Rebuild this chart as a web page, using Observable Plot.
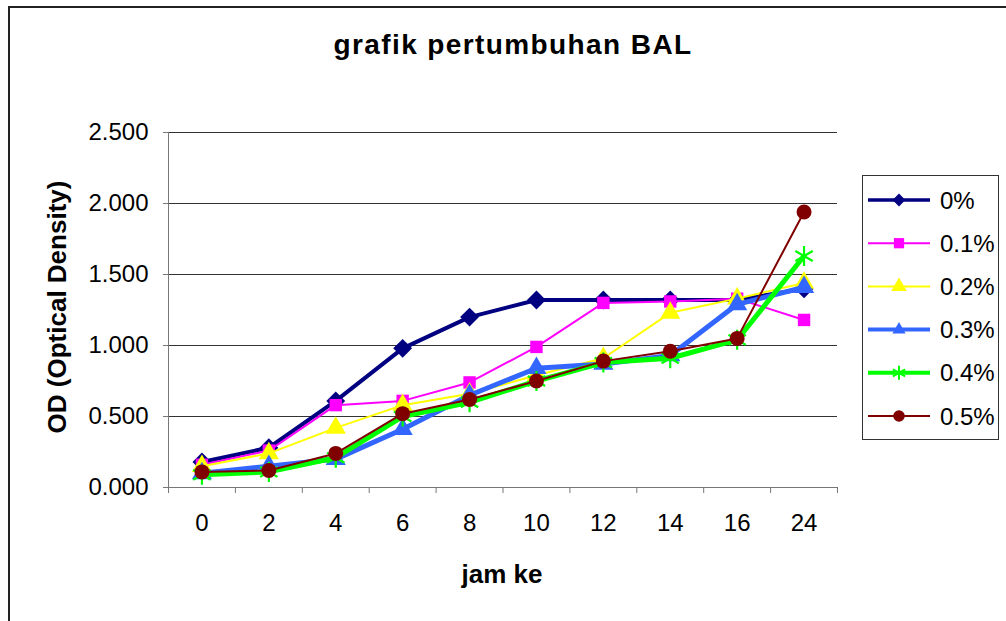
<!DOCTYPE html>
<html>
<head>
<meta charset="utf-8">
<script src="https://cdn.jsdelivr.net/npm/d3@7"></script>
<script src="https://cdn.jsdelivr.net/npm/@observablehq/plot@0.6"></script>
<style>
  body { margin: 0; background: #fff; }
  #wrap { position: relative; width: 1006px; height: 621px; overflow: hidden; background: #fff; }
  #wrap > svg { position: absolute; left: 0; top: 0; }
  #overlay { pointer-events: none; }
</style>
</head>
<body>
<div id="wrap"></div>
<script>
// ---- data ----
const hours = ["0", "2", "4", "6", "8", "10", "12", "14", "16", "24"];
const od0   = [0.18, 0.28, 0.61, 0.98, 1.20, 1.32, 1.32, 1.32, 1.32, 1.40];
const od01  = [0.16, 0.26, 0.58, 0.61, 0.74, 0.99, 1.30, 1.31, 1.33, 1.18];
const od02  = [0.15, 0.24, 0.42, 0.58, 0.66, 0.79, 0.91, 1.23, 1.33, 1.44];
const od03  = [0.10, 0.15, 0.20, 0.41, 0.65, 0.84, 0.87, 0.93, 1.29, 1.41];
const od04  = [0.09, 0.11, 0.21, 0.50, 0.60, 0.75, 0.88, 0.91, 1.04, 1.63];
const od05  = [0.11, 0.12, 0.24, 0.52, 0.62, 0.75, 0.89, 0.96, 1.05, 1.94];
const seriesNames = ["0%", "0.1%", "0.2%", "0.3%", "0.4%", "0.5%"];
const yTicks = [0, 0.5, 1.0, 1.5, 2.0, 2.5];
const titleText = "grafik pertumbuhan BAL";
const xTitle = "jam ke";
const yTitle = "OD (Optical Density)";

// ---- styles ----
const seriesValues = [od0, od01, od02, od03, od04, od05];
const colors  = ["#000080", "#FF00FF", "#FFFF00", "#3366FF", "#00FF00", "#800000"];
const symbols = ["diamond2", "square", "triangle", "triangle", "asterisk", "circle"];
const radii   = [8.5, 7, 7.5, 7.5, 9.5, 7.5];
const widths  = [4, 2, 2, 5, 5, 2];
const legendWidths = [3.5, 2, 2, 4, 4, 2];
const FONT = "'Liberation Sans', Arial, Helvetica, sans-serif";

const idx = hours.map((_, i) => i);
const boundaries = d3.range(hours.length + 1).map(i => i - 0.5);

const marks = [
  Plot.gridY(yTicks.filter(v => v > 0), {stroke: "#333", strokeOpacity: 1, strokeWidth: 1}),
  Plot.ruleX([-0.5], {stroke: "#777", strokeWidth: 1}),
  Plot.ruleY([0], {stroke: "#777", strokeWidth: 1}),
  Plot.axisY(yTicks, {tickFormat: d3.format(".3f"), tickSize: 5, tickPadding: 15, stroke: "#777", label: null, fontSize: 24, fill: "#000"}),
  Plot.axisX(idx, {tickFormat: i => hours[i], tickSize: 0, tickPadding: 26, label: null, fontSize: 24, fill: "#000"}),
  Plot.axisX(boundaries, {tickFormat: () => "", tickSize: 6, stroke: "#777", label: null})
];

seriesValues.forEach((vals, k) => {
  const rows = vals.map((v, i) => ({i, v}));
  marks.push(Plot.line(rows, {x: "i", y: "v", stroke: colors[k], strokeWidth: widths[k]}));
  const isStar = symbols[k] === "asterisk";
  marks.push(Plot.dot(rows, {
    x: "i", y: "v", symbol: symbols[k], r: radii[k],
    fill: isStar ? "none" : colors[k],
    stroke: isStar ? colors[k] : "none",
    strokeWidth: isStar ? 2.2 : 0
  }));
});

const chart = Plot.plot({
  width: 1006, height: 621,
  marginLeft: 168, marginRight: 169, marginTop: 132, marginBottom: 134,
  style: {fontFamily: FONT, fontSize: "24px", color: "#000", background: "transparent", overflow: "visible"},
  x: {type: "linear", domain: [-0.5, hours.length - 0.5]},
  y: {domain: [0, 2.5]},
  marks
});
document.getElementById("wrap").appendChild(chart);

// ---- overlay: frame, titles, legend ----
const svg = d3.select("#wrap").append("svg").attr("id", "overlay")
  .attr("width", 1006).attr("height", 621).style("font-family", FONT);

svg.append("path").attr("d", "M9,700V7H1100").attr("fill", "none").attr("stroke", "#222").attr("stroke-width", 2);

svg.append("text").attr("x", 513).attr("y", 54).attr("text-anchor", "middle")
  .attr("font-weight", "bold").attr("font-size", 28).style("letter-spacing", "1.4px")
  .text(titleText);

svg.append("text").attr("x", 502).attr("y", 583).attr("text-anchor", "middle")
  .attr("font-weight", "bold").attr("font-size", 26).text(xTitle);

svg.append("text").attr("transform", "translate(66,307) rotate(-90)").attr("text-anchor", "middle")
  .attr("font-weight", "bold").attr("font-size", 26).text(yTitle);

const lg = svg.append("g");
lg.append("rect").attr("x", 862.5).attr("y", 175.5).attr("width", 136).attr("height", 264)
  .attr("fill", "#fff").attr("stroke", "#333").attr("stroke-width", 1);
const symMap = {diamond2: d3.symbolDiamond2, square: d3.symbolSquare, triangle: d3.symbolTriangle, asterisk: d3.symbolAsterisk, circle: d3.symbolCircle};
seriesNames.forEach((name, k) => {
  const y = 200 + k * 43.2;
  const g = lg.append("g");
  g.append("line").attr("x1", 868).attr("x2", 930).attr("y1", y).attr("y2", y)
    .attr("stroke", colors[k]).attr("stroke-width", legendWidths[k]);
  const isStar = symbols[k] === "asterisk";
  const size = symbols[k] === "triangle" && k === 3 ? 75 : (isStar ? 140 : 105);
  g.append("path").attr("transform", `translate(899,${y})`)
    .attr("d", d3.symbol(symMap[symbols[k]], size)())
    .attr("fill", isStar ? "none" : colors[k])
    .attr("stroke", isStar ? colors[k] : "none").attr("stroke-width", isStar ? 2 : 0);
  g.append("text").attr("x", 940).attr("y", y + 8.5).attr("font-size", 24).text(name);
});
</script>
</body>
</html>
